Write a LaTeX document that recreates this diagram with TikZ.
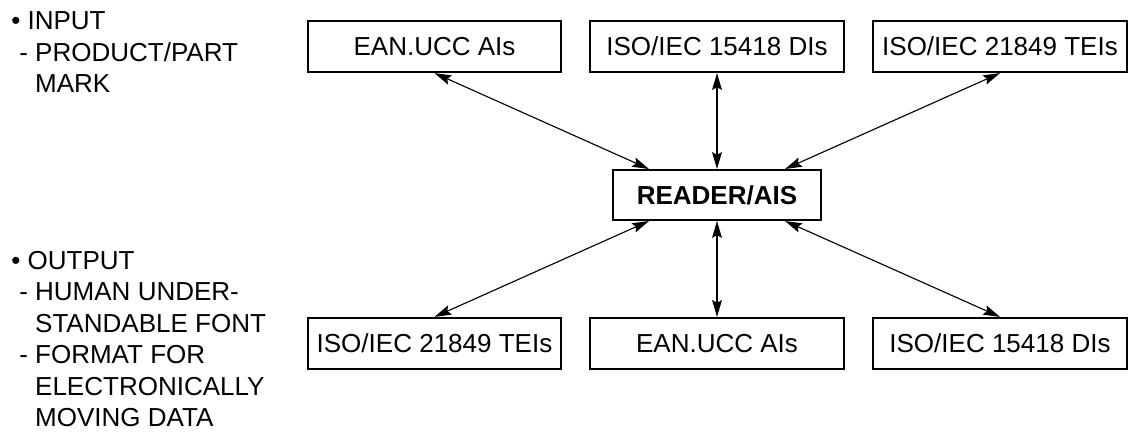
\documentclass[tikz,border=0pt]{standalone}
\usepackage{fontspec}
\setmainfont{Liberation Sans}
\usetikzlibrary{arrows.meta}
\tikzset{
	>={Stealth[length=12pt,width=7pt,inset=2pt]},
}

\begin{document}
\begin{tikzpicture}[x=0.025cm, y=-0.025cm,
box/.style = {draw, line width=1.4pt, minimum width=6.33cm, minimum height=1.28cm, inner sep=0, font=\fontsize{18.5pt}{22pt}\selectfont},
note/.style = {align=left, anchor=north west, inner sep=0, font=\fontsize{18.5pt}{22.4pt}\selectfont},
link/.style = {<->, line width=0.8pt}]
\useasboundingbox (0,0) rectangle (1130,435);
\node[note] (input) at (11,11.4) {\textbullet\ INPUT\\\hspace*{0.2cm}- PRODUCT/PART\\\hspace*{0.2cm}\phantom{- }MARK};
\node[note] (output) at (11,251) {\textbullet\ OUTPUT\\\hspace*{0.2cm}- HUMAN UNDER-\\\hspace*{0.2cm}\phantom{- }STANDABLE FONT\\\hspace*{0.2cm}- FORMAT FOR\\\hspace*{0.2cm}\phantom{- }ELECTRONICALLY\\\hspace*{0.2cm}\phantom{- }MOVING DATA};
\node[box,minimum width=5.2cm,minimum height=1.25cm] (reader) at (717,195) {\bfseries READER/AIS};
% input side
\node[box] (eantop) at (434.5,46.5) {EAN.UCC AIs};
\node[box] (isodtop) at (717,46.5) {ISO/IEC 15418 DIs}
	edge[link] (reader);
\node[box] (isottop) at (1000,46.5) {ISO/IEC 21849 TEIs};
\draw[link] (eantop.south) -- ([xshift=-1.7cm]reader.north);
\draw[link] (isottop.south) -- ([xshift=1.7cm]reader.north);
% output side
\node[box] (isotbot) at (434.5,343.5) {ISO/IEC 21849 TEIs};
\node[box] (eanbot) at (717,343.5) {EAN.UCC AIs}
	edge[link] (reader);
\node[box] (isodbot) at (1000,343.5) {ISO/IEC 15418 DIs};
\draw[link] (isotbot.north) -- ([xshift=-1.7cm]reader.south);
\draw[link] (isodbot.north) -- ([xshift=1.7cm]reader.south);
\end{tikzpicture}
\end{document}
